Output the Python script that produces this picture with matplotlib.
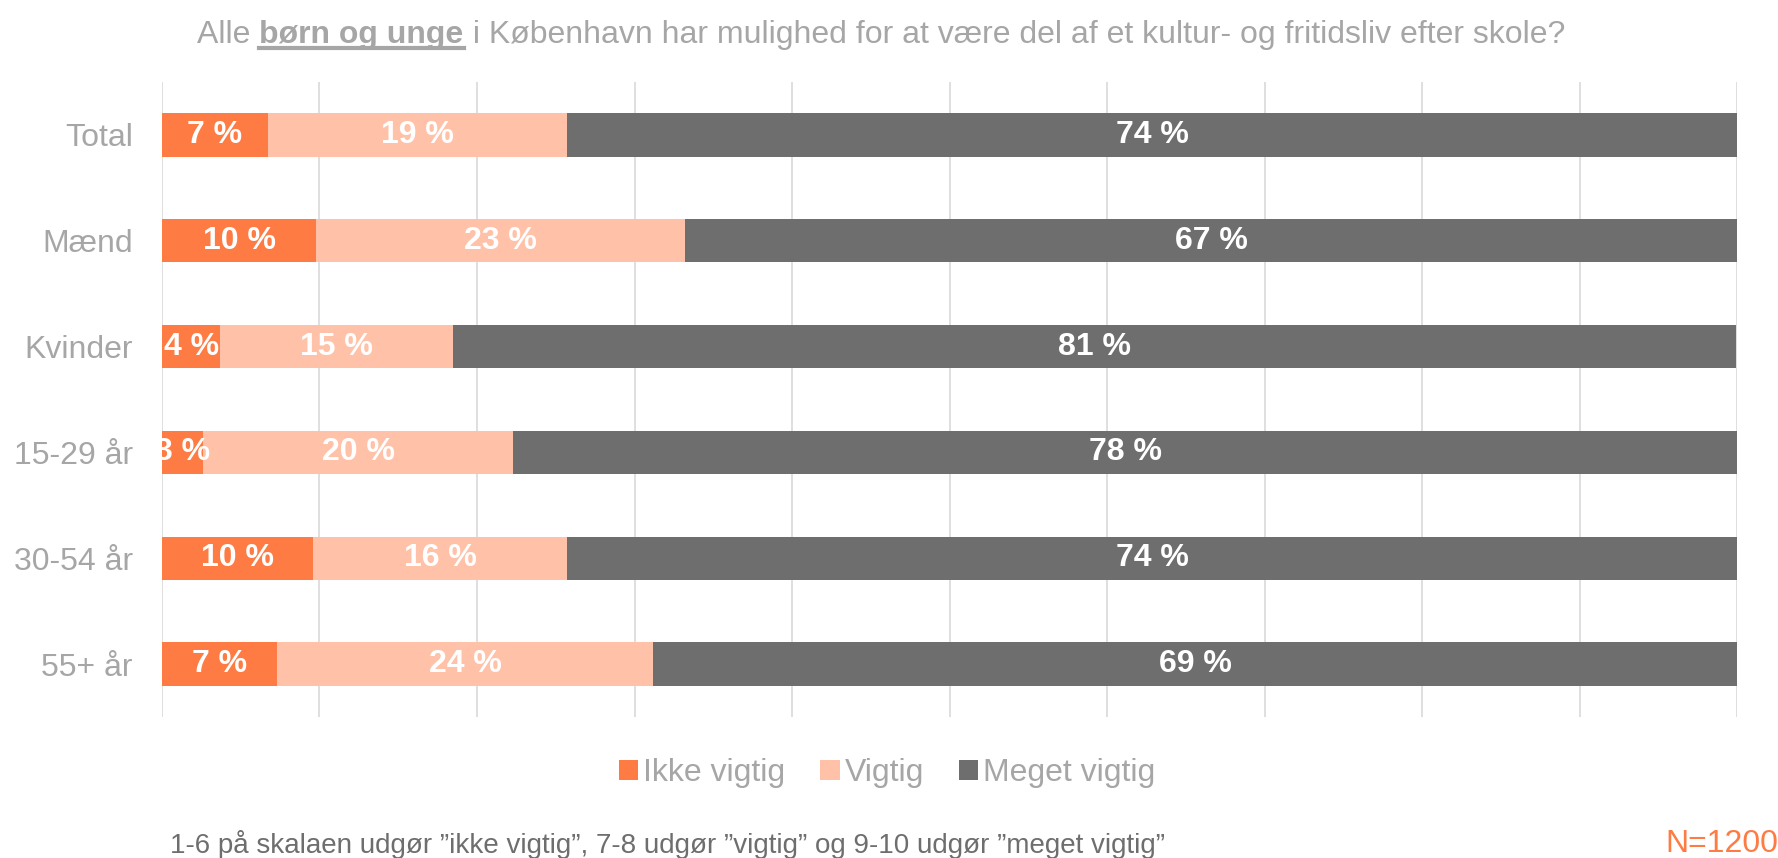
import matplotlib
matplotlib.use("Agg")
import matplotlib.pyplot as plt
from matplotlib.lines import Line2D

# data
groups = ["Total", "Mænd", "Kvinder", "15-29 år", "30-54 år", "55+ år"]
ikke_vigtig = [6.7, 9.8, 3.7, 2.6, 9.6, 7.3]
vigtig = [19.0, 23.4, 14.8, 19.7, 16.1, 23.9]
meget_vigtig = [74.3, 66.8, 81.4, 77.7, 74.3, 68.8]
series_names = ["Ikke vigtig", "Vigtig", "Meget vigtig"]
colors = ["#FE7B43", "#FFC2A8", "#6E6E6E"]

grey = "#A6A6A6"
plt.rcParams["font.family"] = ["Liberation Sans", "DejaVu Sans"]
fs = 23

fig = plt.figure(figsize=(17.78, 8.58), dpi=100)
ax = fig.add_axes([0.0911, 0.1643, 0.8859, 0.7401])

ypos = list(range(len(groups)))
left = [0.0] * len(groups)
for name, vals, col in zip(series_names, [ikke_vigtig, vigtig, meget_vigtig], colors):
    ax.barh(ypos, vals, left=left, height=0.41, color=col, label=name, zorder=2)
    for y, l, v in zip(ypos, left, vals):
        ax.text(l + v / 2, y, f"{round(v)} %", ha="center", va="center",
                color="white", fontsize=fs, fontweight="bold", zorder=3, clip_on=True)
    left = [a + b for a, b in zip(left, vals)]

ax.set_xlim(0, 100)
ax.set_ylim(len(groups) - 0.5, -0.5)
ax.set_xticks(range(0, 101, 10))
ax.set_xticklabels([])
ax.set_yticks(ypos)
ax.set_yticklabels(groups, fontsize=fs, color=grey)
ax.tick_params(axis="both", length=0)
ax.tick_params(axis="y", pad=21)
ax.grid(axis="x", color="#D9D9D9", linewidth=1.2, zorder=0)
ax.set_axisbelow(True)
for s in ax.spines.values():
    s.set_visible(False)

fig.legend(loc="center", bbox_to_anchor=(0.499, 0.099), ncol=3, frameon=False,
           fontsize=fs, labelcolor=grey, handlelength=0.6, handleheight=0.6,
           handletextpad=0.15, columnspacing=1.1)

# title in three parts, middle one bold and underlined
title_y = 1 - 35 / 858
parts = [("Alle ", "normal"), ("børn og unge", "bold"), (" i København har mulighed for at være del af et kultur- og fritidsliv efter skole?", "normal")]
texts = []
for s, w in parts:
    texts.append(fig.text(0, title_y, s, fontsize=fs, color=grey, fontweight=w, va="center"))
fig.canvas.draw()
r = fig.canvas.get_renderer()
widths = [t.get_window_extent(r).width for t in texts]
x = 881 - sum(widths) / 2
for t, w in zip(texts, widths):
    t.set_x(x / 1778)
    x += w
bb = texts[1].get_window_extent(r)
uy = (858 - 48) / 858
fig.add_artist(Line2D([bb.x0 / 1778, bb.x1 / 1778], [uy, uy], color=grey, linewidth=3))

fig.text(170 / 1778, 1 - 853 / 858,
         "1-6 på skalaen udgør ”ikke vigtig”, 7-8 udgør ”vigtig” og 9-10 udgør ”meget vigtig”",
         fontsize=20, color="#6E6E6E", va="baseline")
fig.text(1.0, 1 - 852 / 858, "N=1200", fontsize=fs, color="#FE7B43", va="baseline", ha="right")

fig.savefig("out.png", dpi=100)
